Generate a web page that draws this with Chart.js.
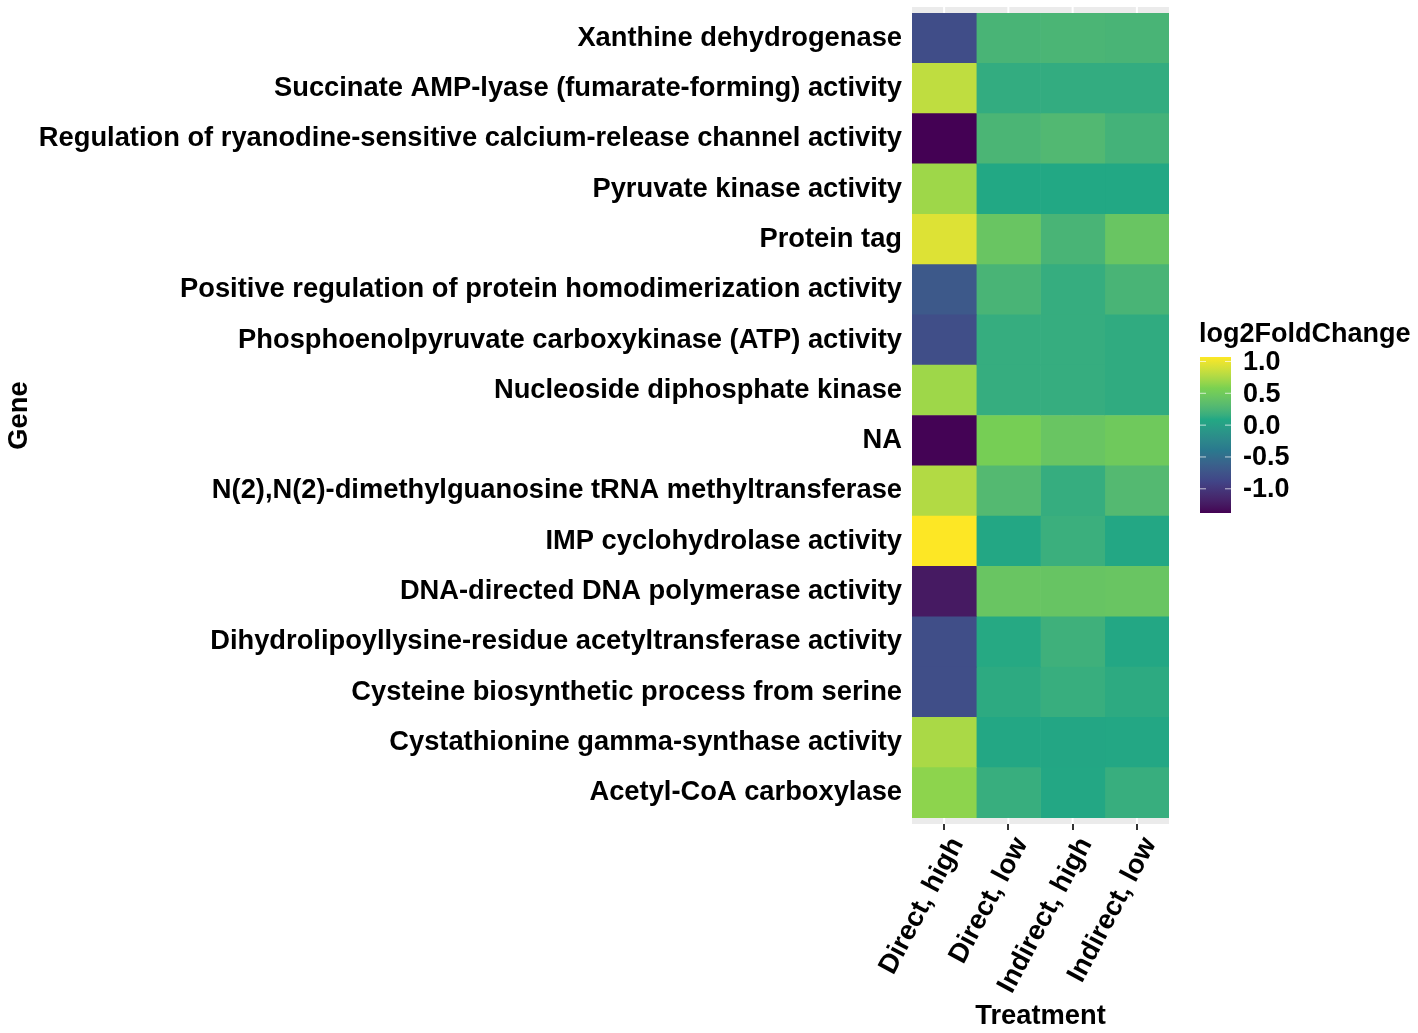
<!DOCTYPE html>
<html>
<head>
<meta charset="utf-8">
<script src="https://cdn.jsdelivr.net/npm/chart.js@4"></script>
<style>
html, body { margin: 0; padding: 0; background: #fff; overflow: hidden; }
#wrap { width: 1418px; height: 1033px; position: relative; }
</style>
</head>
<body>
<div id="wrap"><canvas id="heatmap"></canvas></div>
<script>
// Data
const genes = [
    'Xanthine dehydrogenase',
    'Succinate AMP-lyase (fumarate-forming) activity',
    'Regulation of ryanodine-sensitive calcium-release channel activity',
    'Pyruvate kinase activity',
    'Protein tag',
    'Positive regulation of protein homodimerization activity',
    'Phosphoenolpyruvate carboxykinase (ATP) activity',
    'Nucleoside diphosphate kinase',
    'NA',
    'N(2),N(2)-dimethylguanosine tRNA methyltransferase',
    'IMP cyclohydrolase activity',
    'DNA-directed DNA polymerase activity',
    'Dihydrolipoyllysine-residue acetyltransferase activity',
    'Cysteine biosynthetic process from serine',
    'Cystathionine gamma-synthase activity',
    'Acetyl-CoA carboxylase'
];
const treatments = ['Direct, high', 'Direct, low', 'Indirect, high', 'Indirect, low'];

const directHigh   = [-0.81, 0.82, -1.38, 0.70, 0.94, -0.70, -0.80, 0.70, -1.37, 0.77, 1.07, -1.24, -0.80, -0.80, 0.74, 0.64];
const directLow    = [0.24, 0.14, 0.25, 0.09, 0.44, 0.24, 0.15, 0.15, 0.55, 0.30, 0.08, 0.44, 0.10, 0.12, 0.08, 0.16];
const indirectHigh = [0.25, 0.14, 0.29, 0.09, 0.24, 0.15, 0.15, 0.15, 0.44, 0.15, 0.17, 0.43, 0.19, 0.16, 0.07, 0.08];
const indirectLow  = [0.24, 0.14, 0.21, 0.09, 0.44, 0.24, 0.13, 0.13, 0.49, 0.30, 0.08, 0.44, 0.08, 0.12, 0.08, 0.16];

const colorMin = -1.38;
const colorMax = 1.07;
const legendTicks = [1.0, 0.5, 0.0, -0.5, -1.0];

// Viridis colour scale, six stops blended in Lab space
const viridisStops = ['#440154', '#414487', '#2A788E', '#22A884', '#7AD151', '#FDE725'];

function toLin(c) {
    c /= 255;
    return c <= 0.04045 ? c / 12.92 : Math.pow((c + 0.055) / 1.055, 2.4);
}
function fromLin(c) {
    c = c <= 0.0031308 ? 12.92 * c : 1.055 * Math.pow(c, 1 / 2.4) - 0.055;
    return Math.round(Math.max(0, Math.min(1, c)) * 255);
}
function hexToLab(h) {
    const r = toLin(parseInt(h.slice(1, 3), 16));
    const g = toLin(parseInt(h.slice(3, 5), 16));
    const b = toLin(parseInt(h.slice(5, 7), 16));
    const f = t => t > 0.008856 ? Math.cbrt(t) : 7.787 * t + 16 / 116;
    const fx = f((0.4124 * r + 0.3576 * g + 0.1805 * b) / 0.95047);
    const fy = f(0.2126 * r + 0.7152 * g + 0.0722 * b);
    const fz = f((0.0193 * r + 0.1192 * g + 0.9505 * b) / 1.08883);
    return [116 * fy - 16, 500 * (fx - fy), 200 * (fy - fz)];
}
function labToRgb(lab) {
    const fy = (lab[0] + 16) / 116;
    const fx = fy + lab[1] / 500;
    const fz = fy - lab[2] / 200;
    const inv = t => t > 0.206893 ? t * t * t : (t - 16 / 116) / 7.787;
    const X = inv(fx) * 0.95047, Y = inv(fy), Z = inv(fz) * 1.08883;
    const r = 3.2406 * X - 1.5372 * Y - 0.4986 * Z;
    const g = -0.9689 * X + 1.8758 * Y + 0.0415 * Z;
    const b = 0.0557 * X - 0.2040 * Y + 1.0570 * Z;
    return [fromLin(r), fromLin(g), fromLin(b)];
}
const viridisLab = viridisStops.map(hexToLab);

function viridis(t) {
    t = Math.max(0, Math.min(1, t));
    const pos = t * (viridisLab.length - 1);
    const i = Math.min(Math.floor(pos), viridisLab.length - 2);
    const f = pos - i;
    const a = viridisLab[i], b = viridisLab[i + 1];
    const c = labToRgb(a.map((v, k) => v + (b[k] - v) * f));
    return 'rgb(' + c.join(',') + ')';
}

function cellColor(v) {
    return viridis((v - colorMin) / (colorMax - colorMin));
}

const font = { family: '"Liberation Sans", Arial, sans-serif', size: 27.3, weight: 'bold' };
const columns = [directHigh, directLow, indirectHigh, indirectLow];

// Grey panel strip above / below the tiles, like ggplot
const panelBg = {
    id: 'panelBg',
    beforeDatasetsDraw(chart) {
        const { ctx, chartArea: a } = chart;
        const x = chart.scales.x;
        ctx.save();
        ctx.fillStyle = '#EBEBEB';
        ctx.fillRect(a.left, a.top - 6, a.right - a.left, a.bottom - a.top + 12);
        ctx.strokeStyle = '#fff';
        ctx.lineWidth = 2;
        treatments.forEach((t, i) => {
            const px = x.getPixelForValue(i + 0.5);
            ctx.beginPath();
            ctx.moveTo(px, a.top - 6);
            ctx.lineTo(px, a.bottom + 6);
            ctx.stroke();
        });
        ctx.restore();
    }
};

// Colour bar legend
const colorBar = {
    id: 'colorBar',
    afterDraw(chart) {
        const ctx = chart.ctx;
        const left = 1200, right = 1231, top = 357, bottom = 513;
        ctx.save();
        ctx.fillStyle = '#000';
        ctx.font = 'bold 27px "Liberation Sans", Arial, sans-serif';
        ctx.textAlign = 'left';
        ctx.textBaseline = 'alphabetic';
        ctx.fillText('log2FoldChange', 1199, 342);

        const grad = ctx.createLinearGradient(0, bottom, 0, top);
        for (let i = 0; i <= 40; i++) {
            grad.addColorStop(i / 40, viridis(i / 40));
        }
        ctx.fillStyle = grad;
        ctx.fillRect(left, top, right - left, bottom - top);

        ctx.textBaseline = 'middle';
        legendTicks.forEach(v => {
            const y = bottom - (v - colorMin) / (colorMax - colorMin) * (bottom - top);
            ctx.strokeStyle = 'rgba(255,255,255,0.7)';
            ctx.lineWidth = 1;
            ctx.beginPath();
            ctx.moveTo(left, y); ctx.lineTo(left + 6, y);
            ctx.moveTo(right - 6, y); ctx.lineTo(right, y);
            ctx.stroke();
            ctx.fillStyle = '#000';
            ctx.fillText(v.toFixed(1), 1243, y + 1);
        });
        ctx.restore();
    }
};

new Chart(document.getElementById('heatmap'), {
    type: 'bar',
    data: {
        labels: genes,
        datasets: columns.map((vals, j) => ({
            label: treatments[j],
            data: vals.map(() => [j, j + 1]),
            backgroundColor: vals.map(cellColor),
            borderWidth: 0,
            barPercentage: 1,
            categoryPercentage: 1
        }))
    },
    options: {
        indexAxis: 'y',
        responsive: true,
        maintainAspectRatio: false,
        animation: false,
        layout: {
            padding: { top: 13, right: 249, bottom: 0, left: 0 }
        },
        plugins: {
            legend: { display: false },
            tooltip: { enabled: false }
        },
        scales: {
            x: {
                type: 'linear',
                min: 0,
                max: 4,
                afterBuildTicks: s => {
                    s.ticks = treatments.map((t, i) => ({ value: i + 0.5 }));
                },
                afterFit: s => {
                    s.height = 215;
                    s.paddingLeft = 0;
                    s.paddingRight = 0;
                },
                ticks: {
                    autoSkip: false,
                    minRotation: 62,
                    maxRotation: 62,
                    color: '#000',
                    font: font,
                    padding: 2,
                    labelOffset: 13,
                    callback: v => treatments[Math.floor(v)]
                },
                grid: {
                    drawOnChartArea: false,
                    tickLength: 12,
                    tickColor: '#333',
                    lineWidth: 2
                },
                border: { display: false },
                title: {
                    display: true,
                    text: 'Treatment',
                    color: '#000',
                    font: font,
                    padding: { top: 0, bottom: 0 }
                }
            },
            y: {
                type: 'category',
                offset: true,
                stacked: true,
                afterFit: s => {
                    s.width = 912;
                    s.paddingTop = 0;
                    s.paddingBottom = 0;
                },
                ticks: {
                    color: '#000',
                    font: font,
                    padding: 2
                },
                grid: { display: false },
                border: { display: false },
                title: {
                    display: true,
                    text: 'Gene',
                    color: '#000',
                    font: font,
                    padding: { top: 3, bottom: 0 }
                }
            }
        }
    },
    plugins: [panelBg, colorBar]
});
</script>
</body>
</html>
